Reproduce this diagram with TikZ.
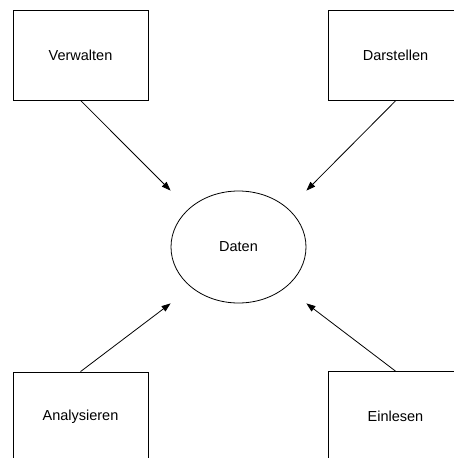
\documentclass[tikz,border=0pt]{standalone}
\usepackage{fontspec}
\setmainfont{Liberation Sans}
\usepackage{tikz}
\usetikzlibrary{positioning,arrows.meta,shapes.geometric}

\begin{document}
\begin{tikzpicture}[x=1pt,y=-1pt,
		kasten/.style={draw,line width=.8pt,minimum width=135pt,minimum height=90pt,inner sep=0pt,font=\fontsize{14.5}{17}\selectfont},
		speicher/.style={draw,ellipse,line width=.8pt,minimum width=135pt,minimum height=112pt,inner sep=0pt,font=\fontsize{14.5}{17}\selectfont},
		pfeil/.style={-{Triangle[length=9pt,width=6.5pt]},line width=.8pt}]
			\useasboundingbox (0,0) rectangle (454,458);
			\clip (0,0) rectangle (454,458);
			
			\node[speicher] (daten) at (238.5,247) {Daten};
			
			\node[kasten] (verwalten) at (80.5,55) {Verwalten};
			\node[kasten] (darstellen) at (395.5,55.5) {Darstellen};
			\node[kasten] (analysieren) at (80.5,417) {Analysieren};
			\node[kasten] (einlesen) at (395.5,416.5) {Einlesen};
			
			%%% ecken um die ellipse
			\coordinate (ol) at (daten.west |- daten.north);
			\coordinate (or) at (daten.east |- daten.north);
			\coordinate (ul) at (daten.west |- daten.south);
			\coordinate (ur) at (daten.east |- daten.south);
			
			\draw[pfeil] (verwalten.south) -- (ol);
			\draw[pfeil] (darstellen.south) -- (or);
			\draw[pfeil] (analysieren.north) -- (ul);
			\draw[pfeil] (einlesen.north) -- (ur);
			
		\end{tikzpicture}
\end{document}
